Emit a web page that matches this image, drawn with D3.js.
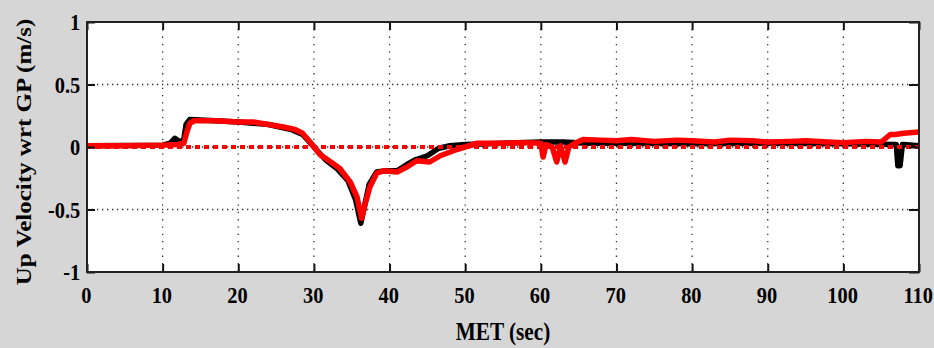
<!DOCTYPE html>
<html>
<head>
<meta charset="utf-8">
<script src="https://cdn.jsdelivr.net/npm/d3@7"></script>
<style>
  body { margin: 0; background: #d6d6d6; }
  svg { display: block; }
</style>
</head>
<body>
<div id="chart"></div>
<script>
// Data (time in sec, up velocity in m/s)
const xTicks = [0, 10, 20, 30, 40, 50, 60, 70, 80, 90, 100, 110];
const yTicks = [-1, -0.5, 0, 0.5, 1];

const blackT = [0, 10, 11, 11.6, 12.3, 12.8, 13.1, 13.6, 17, 20, 24, 27, 28.5, 30, 31.5, 33, 34.5, 35.5, 36.2, 36.7, 37.3, 38.3, 39.5, 41, 42.3, 43.5, 45, 46.5, 48, 50, 55, 60, 63, 66, 70, 80, 90, 100, 107, 107.2, 107.5, 107.8, 108, 110];
const blackV = [0.01, 0.015, 0.03, 0.07, 0.04, 0.06, 0.18, 0.22, 0.21, 0.2, 0.18, 0.14, 0.1, 0.0, -0.1, -0.17, -0.27, -0.42, -0.61, -0.47, -0.3, -0.2, -0.19, -0.19, -0.14, -0.1, -0.07, -0.01, 0.01, 0.02, 0.03, 0.04, 0.04, 0.03, 0.03, 0.025, 0.03, 0.025, 0.02, -0.15, -0.15, 0.02, 0.02, 0.01];

const redT = [0, 5, 10, 12, 12.8, 13.2, 13.6, 14.2, 17, 20, 22, 24, 26, 27.5, 28.5, 29.5, 30.8, 32, 33.4, 34.8, 35.7, 36.3, 36.8, 37.4, 38.3, 39.2, 41, 42.3, 43.6, 45.3, 46.7, 48.9, 51.6, 55, 58, 60, 60.3, 60.7, 61.5, 62.1, 62.6, 63.2, 63.7, 64.5, 65.6, 68, 70, 72, 75, 78, 80, 83, 85, 88, 90, 93, 95, 98, 100, 103, 105, 106.2, 106.8, 108, 110];
const redV = [0.01, 0.01, 0.015, 0.02, 0.03, 0.12, 0.19, 0.21, 0.21, 0.2, 0.2, 0.18, 0.16, 0.14, 0.11, 0.04, -0.06, -0.11, -0.17, -0.28, -0.4, -0.57, -0.45, -0.32, -0.21, -0.19, -0.2, -0.16, -0.11, -0.12, -0.07, -0.02, 0.03, 0.03, 0.035, 0.03, -0.08, 0.02, 0.0, -0.12, 0.01, -0.12, 0.0, 0.03, 0.06, 0.055, 0.05, 0.06, 0.045, 0.055, 0.05, 0.04, 0.055, 0.05, 0.04, 0.045, 0.05, 0.04, 0.035, 0.045, 0.04, 0.1, 0.1, 0.11, 0.12];

const zeroT = [0, 110];
const zeroV = [0, 0];

const W = 934, H = 348;
const margin = { top: 22, right: 15, bottom: 76, left: 87 };
const width = W - margin.left - margin.right;
const height = H - margin.top - margin.bottom;
const font = '"Liberation Serif", "Times New Roman", serif';
const squeeze = 0.85;

const svg = d3.select('#chart').append('svg')
  .attr('width', W)
  .attr('height', H);

svg.append('rect').attr('width', W).attr('height', H).attr('fill', '#d6d6d6');

const g = svg.append('g')
  .attr('transform', `translate(${margin.left},${margin.top})`);

const x = d3.scaleLinear().domain([0, 110]).range([0, width]);
const y = d3.scaleLinear().domain([-1, 1]).range([height, 0]);

// plot background
g.append('rect').attr('width', width).attr('height', height).attr('fill', '#fff');

// dotted grid
g.append('g').selectAll('line')
  .data(xTicks.slice(1, -1))
  .join('line')
  .attr('x1', d => x(d)).attr('x2', d => x(d))
  .attr('y1', 0).attr('y2', height)
  .attr('stroke', '#333').attr('stroke-width', 1.3)
  .attr('stroke-dasharray', '1.3,6');

g.append('g').selectAll('line')
  .data(yTicks.slice(1, -1))
  .join('line')
  .attr('x1', 0).attr('x2', width)
  .attr('y1', d => y(d)).attr('y2', d => y(d))
  .attr('stroke', '#333').attr('stroke-width', 1.3)
  .attr('stroke-dasharray', '1.3,3.7');

// data lines
g.append('clipPath').attr('id', 'clip')
  .append('rect').attr('width', width).attr('height', height);

const line = d3.line()
  .x(d => x(d[0]))
  .y(d => y(d[1]));

const plot = g.append('g').attr('clip-path', 'url(#clip)');

plot.append('path')
  .datum(blackT.map((t, i) => [t, blackV[i]]))
  .attr('fill', 'none')
  .attr('stroke', '#000')
  .attr('stroke-width', 5.5)
  .attr('stroke-linejoin', 'round')
  .attr('d', line);

plot.append('path')
  .datum(zeroT.map((t, i) => [t, zeroV[i]]))
  .attr('fill', 'none')
  .attr('stroke', '#ff0000')
  .attr('stroke-width', 4)
  .attr('stroke-dasharray', '5,4')
  .attr('d', line);

plot.append('path')
  .datum(redT.map((t, i) => [t, redV[i]]))
  .attr('fill', 'none')
  .attr('stroke', '#ff0000')
  .attr('stroke-width', 5.5)
  .attr('stroke-linejoin', 'round')
  .attr('d', line);

// axes with inward ticks
const styleAxis = sel => {
  sel.select('.domain').remove();
  sel.selectAll('line').attr('stroke', '#111').attr('stroke-width', 2);
  sel.selectAll('text')
    .attr('fill', '#000')
    .style('font-family', font)
    .style('font-weight', 'bold')
    .style('font-size', '24px');
};

g.append('g')
  .attr('transform', `translate(0,${height})`)
  .call(d3.axisBottom(x).tickValues(xTicks).tickSizeInner(-8).tickSizeOuter(0).tickPadding(14))
  .call(styleAxis)
  .call(a => a.selectAll('text').attr('dx', -1.5).attr('transform', `scale(${squeeze},1)`));

g.append('g')
  .call(d3.axisTop(x).tickValues(xTicks).tickSizeInner(-8).tickSizeOuter(0).tickFormat(''))
  .call(styleAxis);

g.append('g')
  .call(d3.axisLeft(y).tickValues(yTicks).tickSizeInner(-8).tickSizeOuter(0).tickPadding(8)
    .tickFormat(d => String(d)))
  .call(styleAxis)
  .call(a => a.selectAll('text').attr('transform', `scale(${squeeze},1)`));

g.append('g')
  .attr('transform', `translate(${width},0)`)
  .call(d3.axisLeft(y).tickValues(yTicks).tickSizeInner(10).tickSizeOuter(0).tickFormat(''))
  .call(styleAxis);

// frame
g.append('rect')
  .attr('width', width).attr('height', height)
  .attr('fill', 'none')
  .attr('stroke', '#222')
  .attr('stroke-width', 2);

// axis titles
svg.append('text')
  .attr('transform', `translate(${margin.left + width / 2},340) scale(${squeeze},1)`)
  .attr('text-anchor', 'middle')
  .style('font-family', font)
  .style('font-weight', 'bold')
  .style('font-size', '25px')
  .text('MET (sec)');

svg.append('text')
  .attr('transform', `translate(31,${margin.top + height / 2 + 5}) scale(${squeeze},1) rotate(-90)`)
  .attr('text-anchor', 'middle')
  .style('font-family', font)
  .style('font-weight', 'bold')
  .style('font-size', '25px')
  .text('Up Velocity wrt GP (m/s)');
</script>
</body>
</html>
